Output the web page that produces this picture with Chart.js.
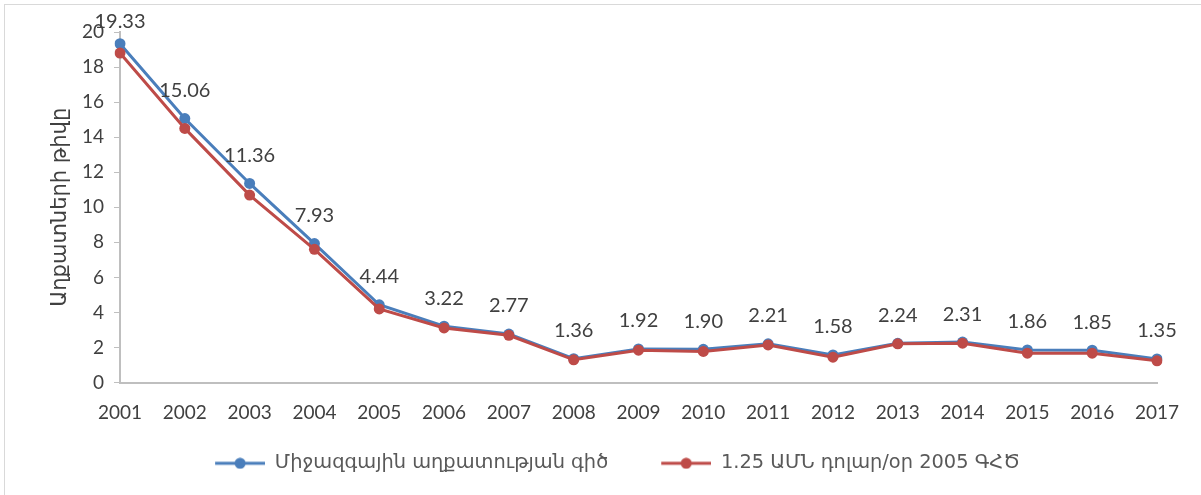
<!DOCTYPE html>
<html>
<head>
<meta charset="utf-8">
<script src="https://cdn.jsdelivr.net/npm/chart.js@4.4.1/dist/chart.umd.min.js"></script>
<style>
  html, body { margin: 0; padding: 0; background: #fff; }
  #wrap { position: relative; width: 1201px; height: 495px; }
  #frame { position: absolute; left: 4px; top: 4px; right: 0; bottom: 0;
           border-top: 1px solid #d9d9d9; border-left: 1px solid #d9d9d9; }
  canvas { position: absolute; left: 0; top: 0; }
</style>
</head>
<body>
<div id="wrap">
  <div id="frame"></div>
  <canvas id="c" width="1201" height="495"></canvas>
</div>
<script>
'use strict';

const years = ['2001', '2002', '2003', '2004', '2005', '2006', '2007', '2008', '2009',
               '2010', '2011', '2012', '2013', '2014', '2015', '2016', '2017'];
const intlLine = [19.33, 15.06, 11.36, 7.93, 4.44, 3.22, 2.77, 1.36, 1.92,
                  1.90, 2.21, 1.58, 2.24, 2.31, 1.86, 1.85, 1.35];
const usd125 = [18.8, 14.5, 10.7, 7.6, 4.2, 3.12, 2.7, 1.3, 1.85,
                1.78, 2.15, 1.45, 2.21, 2.25, 1.68, 1.68, 1.24];
const seriesNames = ['Միջազգային աղքատության գիծ', '1.25 ԱՄՆ դոլար/օր 2005 ԳՀԾ'];
const yTitle = 'Աղքատների թիվը';

const BLUE = '#4a7ebb';
const RED = '#be4b48';
const TXT = '#404040';
const NUMFONT = 'Lato, "DejaVu Sans", sans-serif';
const ARMFONT = '"DejaVu Sans", sans-serif';

// legend marker: short line with a dot, with some empty room on the left as item spacing
function marker(color) {
    const cv = document.createElement('canvas');
    cv.width = 77; cv.height = 12;
    const g = cv.getContext('2d');
    g.strokeStyle = color; g.lineWidth = 3;
    g.beginPath(); g.moveTo(27, 6); g.lineTo(77, 6); g.stroke();
    g.fillStyle = color;
    g.beginPath(); g.arc(52, 6, 5.5, 0, Math.PI * 2); g.fill();
    return cv;
}

// value labels above the blue series
const valueLabels = {
    id: 'valueLabels',
    afterDatasetsDraw(chart) {
        const meta = chart.getDatasetMeta(0);
        const ctx = chart.ctx;
        ctx.save();
        ctx.font = '20px ' + NUMFONT;
        ctx.fillStyle = TXT;
        ctx.textAlign = 'center';
        ctx.textBaseline = 'middle';
        meta.data.forEach((pt, i) => {
            const y = Math.max(pt.y - 28, 22);
            ctx.fillText(intlLine[i].toFixed(2), pt.x, y);
        });
        ctx.restore();
    }
};

new Chart(document.getElementById('c').getContext('2d'), {
    type: 'line',
    data: {
        labels: years,
        datasets: [
            { label: seriesNames[0], data: intlLine, order: 1,
              borderColor: BLUE, backgroundColor: BLUE, borderWidth: 3,
              pointRadius: 5.5, pointBackgroundColor: BLUE, pointBorderWidth: 0,
              tension: 0 },
            { label: seriesNames[1], data: usd125, order: 0,
              borderColor: RED, backgroundColor: RED, borderWidth: 3,
              pointRadius: 5.5, pointBackgroundColor: RED, pointBorderWidth: 0,
              tension: 0 }
        ]
    },
    options: {
        animation: false,
        responsive: false,
        devicePixelRatio: 1,
        layout: { padding: { top: 32, right: 44, bottom: 12, left: 51 } },
        plugins: {
            tooltip: { enabled: false },
            legend: {
                position: 'bottom',
                labels: {
                    usePointStyle: true,
                    pointStyleWidth: 77,
                    padding: 26,
                    color: '#595959',
                    font: { family: ARMFONT, size: 19.4 },
                    generateLabels(chart) {
                        return chart.data.datasets.map((ds, i) => ({
                            text: ds.label,
                            pointStyle: marker(ds.borderColor),
                            fillStyle: ds.borderColor,
                            strokeStyle: ds.borderColor,
                            lineWidth: 0,
                            fontColor: '#595959',
                            datasetIndex: i,
                            hidden: false
                        }));
                    }
                }
            }
        },
        scales: {
            x: {
                offset: false,
                grid: { display: false },
                border: { display: true, color: '#bfbfbf', width: 2 },
                ticks: { color: TXT, font: { family: NUMFONT, size: 19 },
                         padding: 11, maxRotation: 0, autoSkip: false },
                afterFit(s) { s.height = 45; }
            },
            y: {
                min: 0, max: 20,
                grid: { display: true, drawOnChartArea: false, tickLength: 6,
                        color: '#bfbfbf', lineWidth: 1 },
                border: { display: true, color: '#bfbfbf', width: 2 },
                ticks: { stepSize: 2, color: TXT, font: { family: NUMFONT, size: 19 },
                         padding: 10 },
                title: { display: true, text: yTitle, color: TXT,
                         font: { family: ARMFONT, size: 21 }, padding: { top: -3, bottom: 0 } },
                afterFit(s) { s.width = 69; }
            }
        }
    },
    plugins: [valueLabels]
});
</script>
</body>
</html>
